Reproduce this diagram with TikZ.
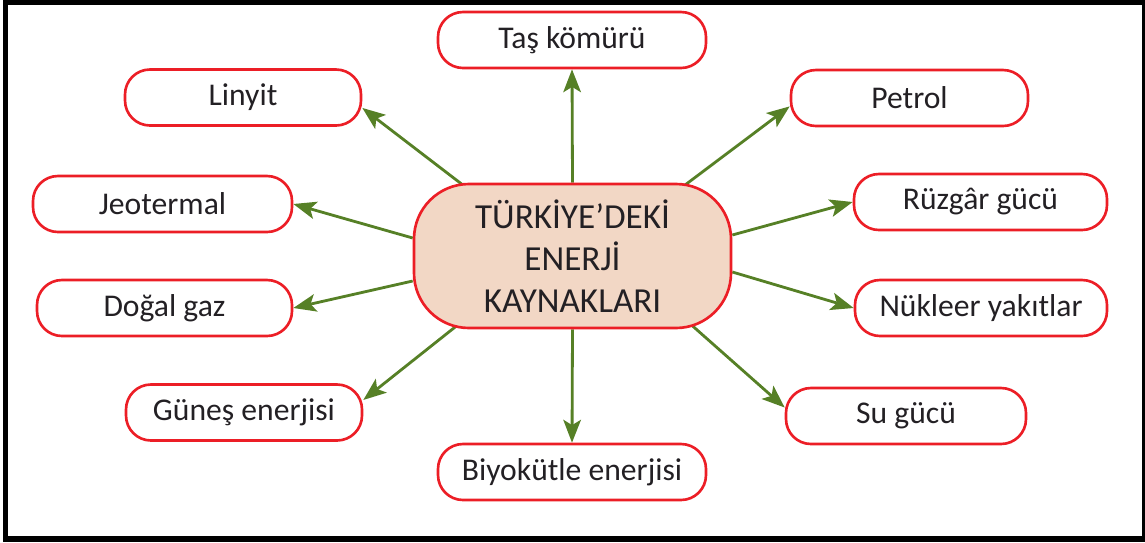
\documentclass[tikz,border=0pt]{standalone}
\usepackage{fontspec}
\setmainfont{Carlito}
\usetikzlibrary{arrows.meta,backgrounds}

\definecolor{boxred}{RGB}{236,30,38}
\definecolor{arrgreen}{RGB}{86,128,38}
\definecolor{hubfill}{RGB}{242,215,197}
\definecolor{txt}{RGB}{35,32,36}

\begin{document}
\begin{tikzpicture}[scale=1,
  source/.style={draw=boxred,line width=1.5pt,rounded corners=0.5cm,
    minimum height=1.12cm,text=txt,font=\fontsize{18}{22}\selectfont},
  hub/.style={draw=boxred,fill=hubfill,line width=1.5pt,rounded corners=1.1cm,
    minimum width=6.34cm,minimum height=2.88cm,align=center,text=txt,
    font=\fontsize{20}{24}\selectfont},
  arr/.style={draw=arrgreen,line width=1.6pt,
    -{Stealth[length=13pt,width=10pt,inset=3pt]}}]
  \useasboundingbox (0,0) rectangle (22.9,10.84);
  \draw[line width=0.11cm] (0.11,0.06) rectangle (22.89,10.79);
  % centre of the figure
  \node[hub]    (E)         at (11.45,5.72) {TÜRKİYE’DEKİ\\ENERJİ\\KAYNAKLARI};
  % left-hand side
  \node[source,minimum width=4.72cm] (LI) at (4.86,8.89) {Linyit};
  \node[source,minimum width=5.18cm] (JE) at (3.25,6.76) {Jeotermal};
  \node[source,minimum width=5.10cm] (DG) at (3.29,4.68) {Doğal gaz};
  \node[source,minimum width=4.72cm] (GE) at (4.88,2.59) {Güneş enerjisi};
  % top and bottom
  \node[source,minimum width=5.36cm] (TK) at (11.44,10.04) {Taş kömürü};
  \node[source,minimum width=5.36cm] (BE) at (11.44,1.40) {Biyokütle enerjisi};
  % right-hand side
  \node[source,minimum width=4.74cm] (PE) at (18.19,8.88) {Petrol};
  \node[source,minimum width=5.06cm] (RG) at (19.61,6.80) {Rüzgâr gücü};
  \node[source,minimum width=5.04cm] (NY) at (19.62,4.68) {Nükleer yakıtlar};
  \node[source,minimum width=4.80cm] (SG) at (18.12,2.52) {Su gücü};
  % arrows, drawn behind the centre box
  \begin{scope}[on background layer]
    \draw[arr] (E.north) -- (TK.south);
    \draw[arr] (E.south) -- (BE.north);
    \draw[arr] ([xshift=-0.34cm]E.center) -- (LI.-5);
    \draw[arr] ([xshift=0.36cm]E.center) -- (PE.184);
    \draw[arr] ([xshift=-0.56cm]E.center) -- (GE.6);
    \draw[arr] ([xshift=0.82cm]E.center) -- (SG.176);
    \draw[arr] ([yshift=0.36cm]E.west) -- (JE.east);
    \draw[arr] ([yshift=-0.5cm]E.west) -- (DG.east);
    \draw[arr] ([yshift=0.42cm]E.east) -- (RG.west);
    \draw[arr] ([yshift=-0.32cm]E.east) -- (NY.west);
  \end{scope}
\end{tikzpicture}
\end{document}
